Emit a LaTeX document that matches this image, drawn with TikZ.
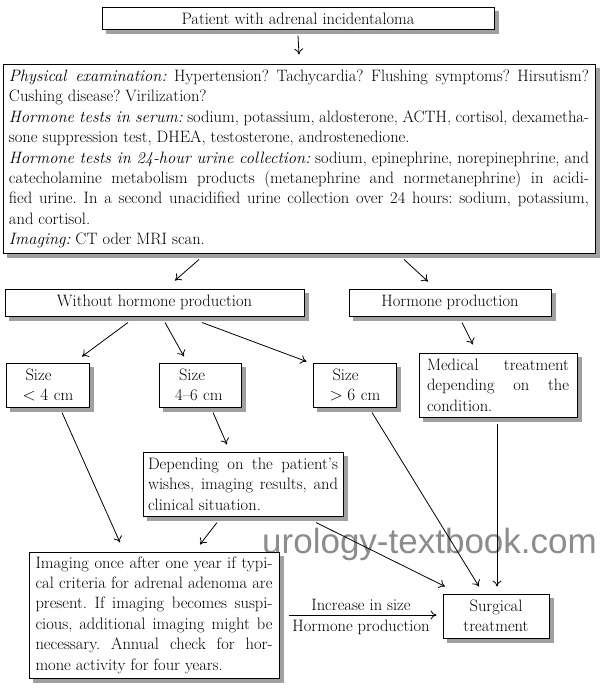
\documentclass[tikz,border=0pt]{standalone}
\usepackage{fontspec}
\newfontfamily\wmfont{Liberation Sans}
\usetikzlibrary{arrows.meta,backgrounds}
\setlength{\parindent}{0pt}
\tolerance=10000
\hbadness=10000
\hyphenpenalty=10000
\exhyphenpenalty=10000
\frenchspacing
\definecolor{wmgray}{HTML}{8C8C8C}
\definecolor{shadowgray}{HTML}{A0A0A0}
\begin{document}
\begin{tikzpicture}[x=1pt,y=-1pt,
  font={\fontsize{16.5}{20.4}\selectfont\frenchspacing},
  box/.style={draw, line width=1pt, fill=white, inner ysep=0pt},
  jbox/.style={box, align=justify},
  arr/.style={line width=0.8pt, -{Computer Modern Rightarrow[length=6pt,width=9pt]}},
]
\useasboundingbox (0,0) rectangle (600,693);

% watermark
\node[anchor=base west, inner sep=0pt, text=wmgray, font={\wmfont\fontsize{35}{40}\selectfont}] (wm) at (262,553) {urology-textbook.com};

% boxes
\node[box, minimum width=392pt, minimum height=22pt] (top) at (298,19) {Patient with adrenal incidentaloma};

\node[jbox, text width=580pt, inner xsep=6pt, minimum height=188pt] (main) at (299,159) {%
\textit{Physical examination:} Hypertension? Tachycardia? Flushing symptoms? Hirsutism?\linebreak Cushing disease? Virilization?\par
\textit{Hormone tests in serum:} sodium, potassium, aldosterone, ACTH, cortisol, dexametha-\linebreak sone suppression test, DHEA, testosterone, androstenedione.\par
\textit{Hormone tests in 24-hour urine collection:} sodium, epinephrine, norepinephrine, and\linebreak catecholamine metabolism products (metanephrine and normetanephrine) in acidi-\linebreak fied urine. In a second unacidified urine collection over 24 hours: sodium, potassium,\linebreak and cortisol.\par
\textit{Imaging:} CT oder MRI scan.};

\node[box, minimum width=299pt, minimum height=27pt] (without) at (154.5,302.5) {Without hormone production};
\node[box, minimum width=202pt, minimum height=27pt] (hormone) at (450,302.5) {Hormone production};

\node[box, align=left, text width=62pt, inner xsep=10.5pt, minimum height=44pt] (size1) at (47.5,385) {\hspace*{9pt}Size\\\hspace*{6pt}$<4$ cm};
\node[box, align=left, text width=62pt, inner xsep=10pt, minimum height=44pt] (size2) at (200,385) {\hspace*{10pt}Size\\\hspace*{6pt}4--6 cm};
\node[box, align=left, text width=62pt, inner xsep=10.5pt, minimum height=44pt] (size3) at (354.5,385) {\hspace*{9pt}Size\\\hspace*{6pt}$>6$ cm};

\node[jbox, text width=142pt, inner xsep=8pt, minimum height=64pt] (medical) at (498,385) {Medical treatment\linebreak depending on the\linebreak condition.};

\node[jbox, text width=190pt, inner xsep=5pt, minimum height=64pt] (depending) at (243,484) {Depending on the patient's\linebreak wishes, imaging results, and\linebreak clinical situation.};

\node[jbox, text width=237pt, inner xsep=6.5pt, minimum height=126pt] (imaging) at (154,615) {Imaging once after one year if typi-\linebreak cal criteria for adrenal adenoma are\linebreak present. If imaging becomes suspi-\linebreak cious, additional imaging might be\linebreak necessary. Annual check for hor-\linebreak mone activity for four years.};

\node[box, align=center, minimum width=106pt, minimum height=44pt] (surgical) at (496,616) {Surgical\\treatment};

% shadows
\begin{scope}[on background layer]
\foreach \n in {top,main,without,hormone,size1,size2,size3,medical,depending,imaging,surgical}{
  \fill[shadowgray] ([xshift=4pt,yshift=-4pt]\n.south west) rectangle ([xshift=4pt,yshift=-4pt]\n.north east);
}
\end{scope}

% connectors
\draw[arr] ([yshift=-5pt]top.south) -- ([yshift=10pt]main.north);
\draw[arr] ([xshift=-100pt,yshift=-6pt]main.south) -- ([xshift=20.5pt,yshift=8pt]without.north);
\draw[arr] ([xshift=105pt,yshift=-6pt]main.south) -- ([xshift=-22pt,yshift=7pt]hormone.north);
\draw[arr] ([xshift=-26.5pt,yshift=-6pt]without.south) -- ([xshift=34.5pt,yshift=6pt]size1.north);
\draw[arr] ([xshift=10.5pt,yshift=-6pt]without.south) -- ([xshift=-16pt,yshift=6pt]size2.north);
\draw[arr] ([xshift=47.5pt,yshift=-6pt]without.south) -- ([xshift=-6pt,yshift=1pt]size3.north west);
\draw[arr] ([xshift=12pt,yshift=-6pt]hormone.south) -- ([xshift=-25pt,yshift=8pt]medical.north);
\draw[arr] ([xshift=14.5pt,yshift=-5pt]size1.south) -- ([xshift=-34pt,yshift=9pt]imaging.north);
\draw[arr] ([xshift=13pt,yshift=-5pt]size2.south) -- ([xshift=-16pt,yshift=7pt]depending.north);
\draw[arr] ([xshift=-26pt,yshift=-6pt]depending.south) -- ([xshift=46pt,yshift=7pt]imaging.north);
\draw[arr] ([xshift=73pt,yshift=-6pt]depending.south) -- ([xshift=-51pt,yshift=7pt]surgical.north);
\draw[arr] ([xshift=17.5pt,yshift=-5pt]size3.south) -- ([xshift=-17pt,yshift=7pt]surgical.north);
\draw[arr] ([xshift=-1pt,yshift=-6pt]medical.south) -- ([xshift=1pt,yshift=7pt]surgical.north);
\draw[arr, shorten <=9pt, shorten >=6pt] (imaging.east) -- (imaging.east -| surgical.west)
  node[midway, above=1pt] (lblA) {Increase in size}
  node[midway, below=1pt] (lblB) {Hormone production};
\end{tikzpicture}
\end{document}
